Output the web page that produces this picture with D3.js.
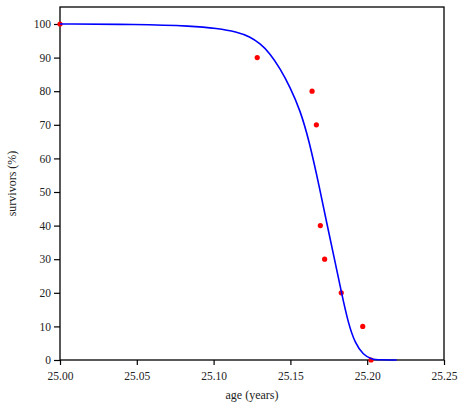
<!DOCTYPE html>
<html>
<head>
<meta charset="utf-8">
<script src="https://cdn.jsdelivr.net/npm/d3@7"></script>
<style>
  html, body { margin: 0; padding: 0; background: #fff; }
  svg { display: block; }
  text { font-family: "Liberation Serif", "DejaVu Serif", serif; fill: #222; }
</style>
</head>
<body>
<svg id="chart" width="465" height="412"></svg>
<script>
// Observed survivors (%) at age (years)
const obsAge = [25.000, 25.1284, 25.1641, 25.1669, 25.1695, 25.1723, 25.1831, 25.1971, 25.2025];
const obsSurv = [100, 90, 80, 70, 40, 30, 20, 10, 0];

// Fitted curve
const fitAge = [25.000, 25.050, 25.0866, 25.1020, 25.1150, 25.1237, 25.1302, 25.1367, 25.1432, 25.1497,
                25.1563, 25.1621, 25.1693, 25.1740, 25.1787, 25.1833, 25.1877, 25.1921, 25.1975, 25.2029,
                25.2083, 25.2192];
const fitSurv = [100, 99.9, 99.4, 98.7, 97.7, 96.2, 94.2, 91.3, 86.8, 81.3,
                 74.4, 65.5, 50.6, 40.0, 30.0, 20.0, 10.9, 5.0, 1.5, 0.2,
                 0.05, 0];

const xTicks = [25.00, 25.05, 25.10, 25.15, 25.20, 25.25];
const yTicks = [0, 10, 20, 30, 40, 50, 60, 70, 80, 90, 100];
const xLabel = "age (years)";
const yLabel = "survivors (%)";

const svg = d3.select("#chart");
const mLeft = 60, mRight = 444, mTop = 7, mBottom = 360;

const x = d3.scaleLinear().domain([25.00, 25.25]).range([mLeft, mRight]);
const y = d3.scaleLinear().domain([0, 100]).range([mBottom, 24]);

// axes
const xAxis = d3.axisBottom(x).tickValues(xTicks).tickFormat(d3.format(".2f")).tickSize(5).tickSizeOuter(0);
const yAxis = d3.axisLeft(y).tickValues(yTicks).tickFormat(d3.format("d")).tickSize(6).tickSizeOuter(0);

const gx = svg.append("g").attr("transform", `translate(0,${mBottom})`).call(xAxis);
const gy = svg.append("g").attr("transform", `translate(${mLeft},0)`).call(yAxis);
[gx, gy].forEach(g => {
  g.attr("font-family", '"Liberation Serif", "DejaVu Serif", serif');
  g.select(".domain").remove();
  g.selectAll("line").attr("stroke", "#000").attr("stroke-width", 1.2);
  g.selectAll("text").attr("font-size", 11.5).attr("fill", "#222");
});
gx.selectAll("text").attr("dy", "1.05em");
gy.selectAll("text").attr("x", -9);

// frame
svg.append("rect")
  .attr("x", mLeft).attr("y", mTop)
  .attr("width", mRight - mLeft).attr("height", mBottom - mTop)
  .attr("fill", "none").attr("stroke", "#000").attr("stroke-width", 1.3);

// observed points
const obs = obsAge.map((a, i) => ({a, s: obsSurv[i]}));
svg.append("g").selectAll("circle").data(obs).enter().append("circle")
  .attr("cx", d => x(d.a)).attr("cy", d => y(d.s)).attr("r", 2.6)
  .attr("fill", "#ff0000");

// fitted curve
const fit = fitAge.map((a, i) => ({a, s: fitSurv[i]}));
const line = d3.line().x(d => x(d.a)).y(d => y(d.s)).curve(d3.curveBasis);
svg.append("path").datum(fit)
  .attr("d", line).attr("fill", "none")
  .attr("stroke", "#0000ff").attr("stroke-width", 1.6);

// labels
svg.append("text").attr("x", (mLeft + mRight) / 2).attr("y", 399)
  .attr("text-anchor", "middle").attr("font-size", 12).text(xLabel);
svg.append("text")
  .attr("transform", `translate(16,${(mTop + mBottom) / 2}) rotate(-90)`)
  .attr("text-anchor", "middle").attr("font-size", 12).text(yLabel);
</script>
</body>
</html>
